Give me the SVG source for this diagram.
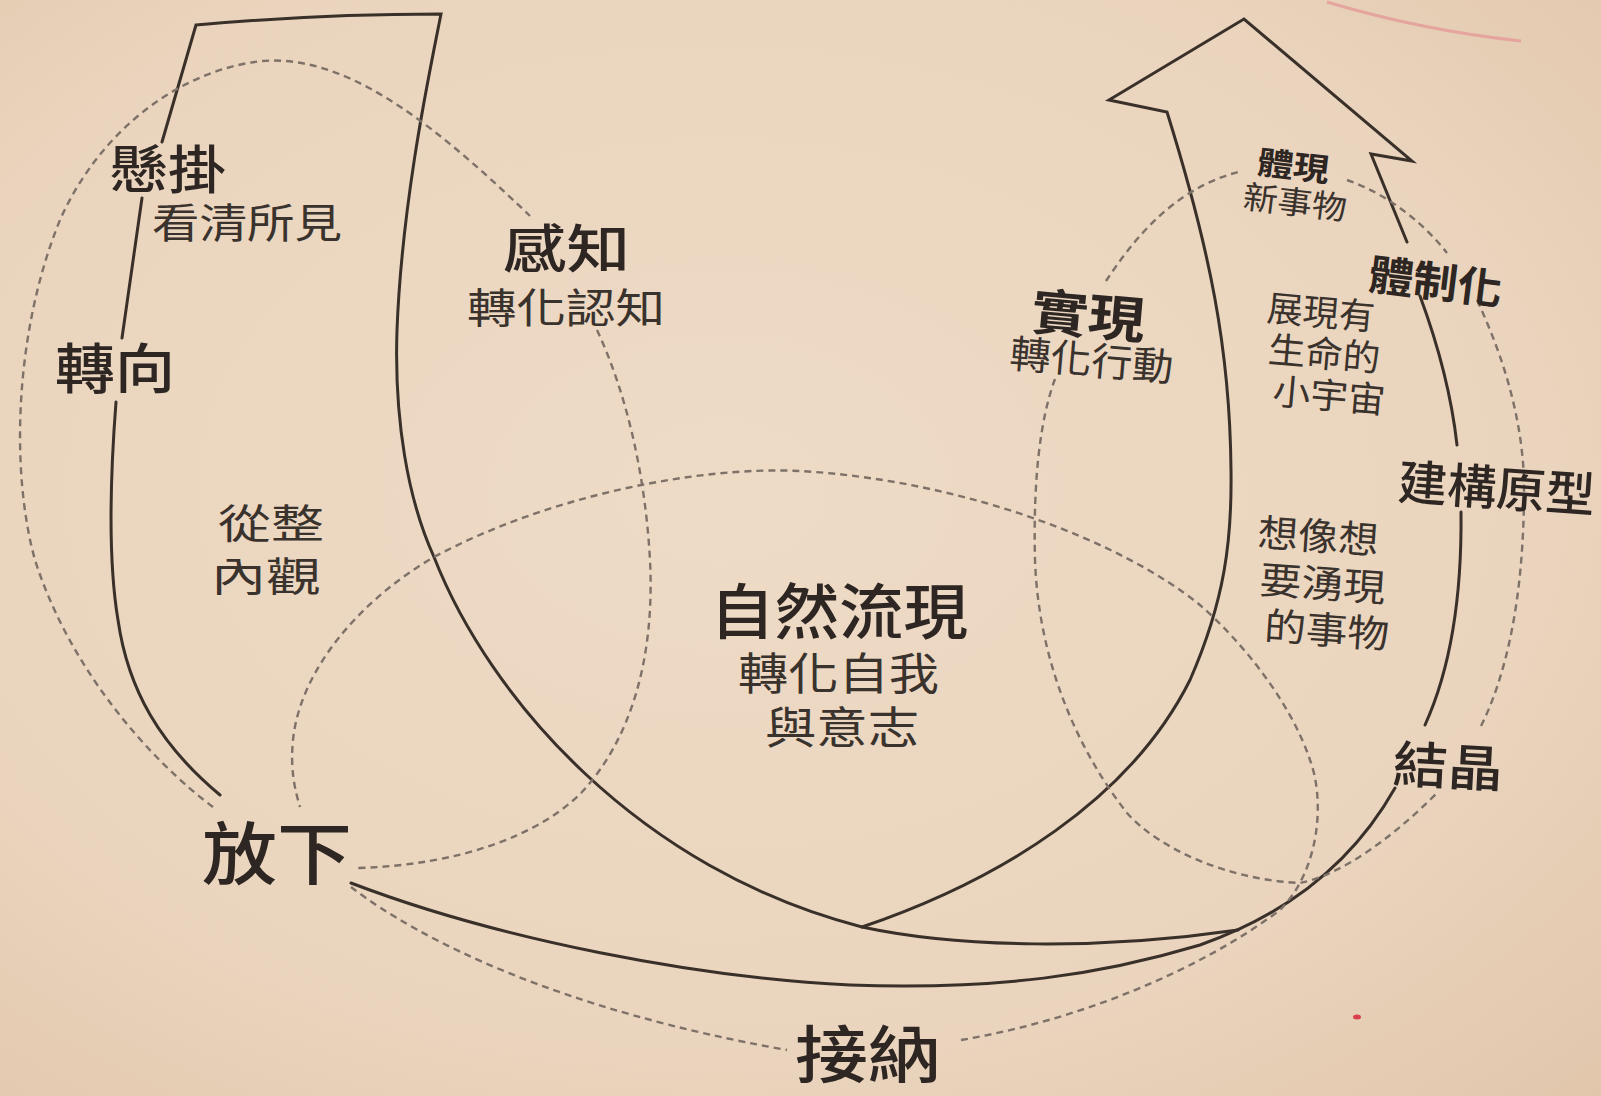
<svg xmlns="http://www.w3.org/2000/svg" width="1601" height="1096" viewBox="0 0 1601 1096">
  <defs>
    <radialGradient id="paper" cx="0.45" cy="0.45" r="0.8">
      <stop offset="0" stop-color="#eedbc6"/>
      <stop offset="0.65" stop-color="#ead4bd"/>
      <stop offset="1" stop-color="#e0c5aa"/>
    </radialGradient>
    <style>
      .solid { fill: none; stroke: #3a302a; stroke-width: 3; stroke-linecap: round; stroke-linejoin: miter; }
      .dash { fill: none; stroke: #7d7168; stroke-width: 2.4; stroke-dasharray: 7 5; }
      text { font-family: "Noto Sans CJK TC", "Noto Sans CJK SC", "Noto Sans", sans-serif; fill: #2d2622; }
      .main { font-weight: 500; }
      .bold { font-weight: 700; }
      .sub { font-weight: 400; fill: #3a322d; }
    </style>
  </defs>
  <rect x="0" y="0" width="1601" height="1096" fill="url(#paper)"/>
  <path d="M1327,2 Q1420,30 1521,41" fill="none" stroke="#e59a98" stroke-width="3" opacity="0.8"/>
  <ellipse cx="1357" cy="1017" rx="4" ry="2.5" fill="#d8404a"/>

  <g id="connectors">
    <!-- U shape outline -->
    <path class="solid" d="M162,142 L196,25 Q320,14 441,14 C430,70 402,200 397,330 C394,420 408,500 434,557 C490,700 640,870 862,927 C960,948 1100,950 1238,930"/>
    <path class="solid" d="M142,198 L122,338"/>
    <path class="solid" d="M116,402 C110,480 108,560 118,620 C128,690 160,745 220,795"/>
    <path class="solid" d="M862,927 C1000,880 1130,800 1190,680 C1225,600 1232,540 1231,470 C1230,350 1210,250 1167,112 L1109,100 L1244,19 L1412,161 L1371,154 L1407,242"/>
    <path class="solid" d="M1420,296 C1440,350 1452,400 1457,445"/>
    <path class="solid" d="M1461,512 C1462,600 1450,670 1425,725"/>
    <path class="solid" d="M1395,788 C1360,850 1300,910 1200,945 C1100,975 1000,990 850,985 C700,978 500,940 351,883"/>
    <!-- left dashed circle -->
    <path class="dash" d="M213,807 C150,760 70,670 35,560 C10,470 15,330 60,220 C100,130 180,70 262,61 C340,55 420,110 530,216"/>
    <path class="dash" d="M597,330 C625,390 645,470 650,560 C655,660 630,740 582,792 C540,835 460,865 358,868"/>
    <!-- central dashed loop -->
    <path class="dash" d="M351,887 C420,940 560,1010 787,1050"/>
    <path class="dash" d="M961,1040 C1080,1020 1200,970 1280,910 C1320,870 1325,800 1310,760 C1290,700 1240,640 1200,605 C1120,540 960,480 800,471 C700,466 550,495 434,557 C360,600 300,670 293,740 C290,770 295,790 300,807"/>
    <!-- right dashed circle -->
    <path class="dash" d="M1055,379 C1040,420 1033,480 1035,560 C1038,650 1070,740 1127,813 C1160,850 1230,880 1300,883 C1340,875 1390,840 1437,793"/>
    <path class="dash" d="M1106,281 C1130,245 1170,190 1238,172"/>
    <path class="dash" d="M1347,180 C1390,195 1425,225 1447,253"/>
    <path class="dash" d="M1477,300 C1505,360 1522,420 1524,480 C1525,600 1505,680 1479,730"/>
  </g>

  <g id="node-suspend"><text class="main" x="110" y="189" font-size="52" textLength="116" lengthAdjust="spacingAndGlyphs">懸掛</text></g>
  <g id="node-seeing"><text class="sub" x="152" y="238" font-size="41" textLength="190" lengthAdjust="spacingAndGlyphs">看清所見</text></g>
  <g id="node-redirect"><text class="main" x="55" y="389" font-size="54" textLength="120" lengthAdjust="spacingAndGlyphs">轉向</text></g>
  <g id="node-whole"><text class="sub" x="218" y="538" font-size="40" textLength="106" lengthAdjust="spacingAndGlyphs">從整</text><text class="sub" x="211" y="591" font-size="40" textLength="110" lengthAdjust="spacingAndGlyphs">內觀</text></g>
  <g id="node-letgo"><text class="main" x="202" y="879" font-size="68" textLength="150" lengthAdjust="spacingAndGlyphs">放下</text></g>
  <g id="node-sensing"><text class="main" x="503" y="268" font-size="52" textLength="127" lengthAdjust="spacingAndGlyphs">感知</text><text class="sub" x="467" y="323" font-size="41" textLength="198" lengthAdjust="spacingAndGlyphs">轉化認知</text></g>
  <g id="node-presencing"><text class="main" x="710" y="634" font-size="60" textLength="258" lengthAdjust="spacingAndGlyphs">自然流現</text><text class="sub" x="738" y="690" font-size="44" textLength="201" lengthAdjust="spacingAndGlyphs">轉化自我</text><text class="sub" x="765" y="744" font-size="44" textLength="154" lengthAdjust="spacingAndGlyphs">與意志</text></g>
  <g id="node-accept"><text class="main" x="795" y="1078" font-size="62" textLength="146" lengthAdjust="spacingAndGlyphs">接納</text></g>
  <g id="node-realizing" transform="rotate(5 1030 330)"><text class="bold" x="1030" y="329" font-size="50" textLength="114" lengthAdjust="spacingAndGlyphs">實現</text><text class="sub" x="1012" y="369" font-size="39" textLength="164" lengthAdjust="spacingAndGlyphs">轉化行動</text></g>
  <g id="node-embody" transform="rotate(7 1255 175)"><text class="bold" x="1256" y="173" font-size="32" textLength="72" lengthAdjust="spacingAndGlyphs">體現</text><text class="sub" x="1246" y="209" font-size="32" textLength="104" lengthAdjust="spacingAndGlyphs">新事物</text></g>
  <g id="node-institutionalize" transform="rotate(7 1368 290)"><text class="bold" x="1367" y="289" font-size="42" textLength="134" lengthAdjust="spacingAndGlyphs">體制化</text></g>
  <g id="node-microcosm" transform="rotate(5 1268 320)"><text class="sub" x="1266" y="321" font-size="36" textLength="108" lengthAdjust="spacingAndGlyphs">展現有</text><text class="sub" x="1271" y="362" font-size="36" textLength="112" lengthAdjust="spacingAndGlyphs">生命的</text><text class="sub" x="1279" y="403" font-size="36" textLength="113" lengthAdjust="spacingAndGlyphs">小宇宙</text></g>
  <g id="node-prototype" transform="rotate(4 1398 500)"><text class="main" x="1397" y="499" font-size="48" textLength="197" lengthAdjust="spacingAndGlyphs">建構原型</text></g>
  <g id="node-envision" transform="rotate(4 1258 545)"><text class="sub" x="1257" y="546" font-size="38" textLength="121" lengthAdjust="spacingAndGlyphs">想像想</text><text class="sub" x="1262" y="593" font-size="38" textLength="126" lengthAdjust="spacingAndGlyphs">要湧現</text><text class="sub" x="1270" y="639" font-size="38" textLength="125" lengthAdjust="spacingAndGlyphs">的事物</text></g>
  <g id="node-crystallize" transform="rotate(3 1393 782)"><text class="main" x="1392" y="782" font-size="50" textLength="110" lengthAdjust="spacingAndGlyphs">結晶</text></g>
</svg>
